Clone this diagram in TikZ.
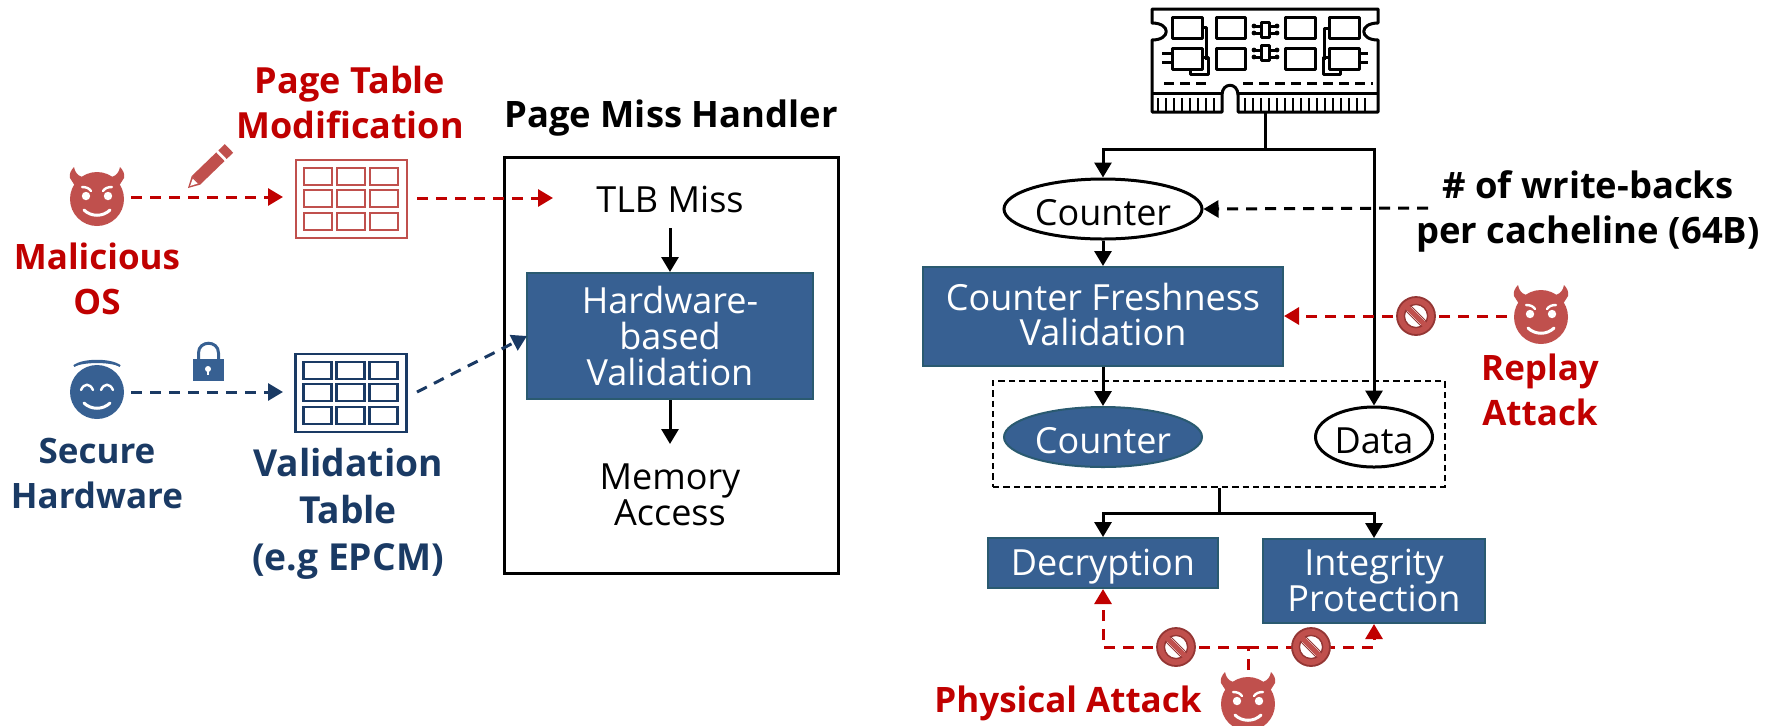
\documentclass[tikz,border=0pt]{standalone}
\usepackage{fontspec}
\setmainfont{Open Sans}
\usetikzlibrary{arrows.meta,shapes.geometric}
\definecolor{redtxt}{HTML}{C00000}
\definecolor{redicon}{HTML}{C0504D}
\definecolor{reddark}{HTML}{943634}
\definecolor{bluebox}{HTML}{376092}
\definecolor{blueedge}{HTML}{2A5A70}
\definecolor{navy}{HTML}{1A3A64}
\newcommand{\lowered}[1]{\raisebox{0pt}[16pt][0pt]{#1}}
\tikzset{
  regtext/.style={font=\fontsize{18}{18}\selectfont,align=center,inner sep=0pt},
  boldtext/.style={font=\bfseries\fontsize{17.5}{22.5}\selectfont,align=center,inner sep=0pt},
  boldwide/.style={font=\bfseries\fontsize{18.2}{22.5}\selectfont,align=center,inner sep=0pt},
  bluerect/.style={rectangle,fill=bluebox,draw=blueedge,line width=1pt,text=white,inner sep=0pt,align=center,font=\fontsize{18}{18}\selectfont},
  whiteoval/.style={ellipse,draw=black,line width=1.5pt,fill=white,inner sep=0pt,font=\fontsize{18}{18}\selectfont,minimum height=30pt},
  blueoval/.style={ellipse,fill=bluebox,draw=blueedge,line width=1pt,text=white,inner sep=0pt,font=\fontsize{18}{18}\selectfont,minimum height=30pt},
  solidarrow/.style={draw=black,line width=1.5pt,-{Triangle[length=7.5pt,width=8.5pt]}},
  solidline/.style={draw=black,line width=1.5pt},
  dashlook/.style={line width=1.5pt,dash pattern=on 5.5pt off 4pt},
  redarrow/.style={dashlook,draw=redtxt,-{Triangle[length=7.5pt,width=8.5pt]}},
  redline/.style={dashlook,draw=redtxt},
  navyarrow/.style={dashlook,draw=navy,-{Triangle[length=7.5pt,width=8.5pt]}},
  blackdash/.style={dashlook,draw=black,-{Triangle[length=7.5pt,width=8.5pt]}},
  iconspot/.style={circle,inner sep=0pt,minimum size=27pt},
  pics/devil/.style={code={
    \fill[redicon] (-27,-21) .. controls (-28,-25) and (-26,-29) .. (-23,-32)
      .. controls (-22,-27) and (-20,-24) .. (-15,-22) -- (15,-22)
      .. controls (20,-24) and (22,-27) .. (23,-32)
      .. controls (26,-29) and (28,-25) .. (27,-21) -- (20,-10) -- (-20,-10) -- cycle;
    \fill[redicon] (0,0) circle[radius=13.5pt];
    \fill[white] (-11,-3) circle[radius=2.1pt] (11,-3) circle[radius=2.1pt];
    \draw[white,line width=1.2pt,line cap=round] (-15,-12) .. controls (-11,-12) and (-8,-11) .. (-6,-8);
    \draw[white,line width=1.2pt,line cap=round] (15,-12) .. controls (11,-12) and (8,-11) .. (6,-8);
    \draw[white,line width=1.5pt,line cap=round] (-13,11) .. controls (-6,18) and (6,18) .. (13,11);
  }},
  pics/angel/.style={code={
    \fill[bluebox] (0,0) circle[radius=13.5pt];
    \draw[bluebox,line width=1pt] (-23,-26) .. controls (-14,-33) and (14,-33) .. (23,-26);
    \draw[bluebox,line width=.8pt] (-23,-26) .. controls (-14,-31) and (14,-31) .. (23,-26);
    \draw[white,line width=1.2pt,line cap=round] (-16,-2) .. controls (-13,-9) and (-7,-9) .. (-4,-2);
    \draw[white,line width=1.2pt,line cap=round] (16,-2) .. controls (13,-9) and (7,-9) .. (4,-2);
    \draw[white,line width=1.5pt,line cap=round] (-13,11) .. controls (-6,18) and (6,18) .. (13,11);
  }},
  pics/nosign/.style={code={
    \fill[redicon] (0,0) circle[radius=9.5pt];
    \draw[reddark,line width=.9pt] (0,0) circle[radius=9.5pt];
    \fill[white] (0,0) circle[radius=5.8pt];
    \draw[reddark,line width=.7pt] (0,0) circle[radius=5.8pt];
    \draw[redicon,line width=2.6pt] (-9,-9) -- (9,9);
    \draw[reddark,line width=.5pt] (-10,-5) -- (5,10) (-5,-10) -- (10,5);
  }},
  pics/gridtable/.style={code={
    \draw[#1,line width=1.4pt] (-55.5,-39) rectangle (55.5,39);
    \foreach \cx in {-47.5,-14.5,18.5}{
      \foreach \cy in {-31,-9,14}{
        \draw[#1,line width=1.4pt] (\cx,\cy) rectangle (\cx+28,\cy+17);
      }
    }
  }},
}
\begin{document}
\begin{tikzpicture}[x=0.5pt,y=-0.5pt]
\useasboundingbox (0,0) rectangle (1776,725);

% ---------- left: nodes
\node[iconspot] (os) at (97,199) {};
\node[iconspot] (hw) at (97,392) {};
\node[minimum width=55.5pt,minimum height=39pt,inner sep=0pt] (ptable) at (351.5,199) {};
\node[minimum width=55.5pt,minimum height=39pt,inner sep=0pt] (vtable) at (351,393) {};
\node[rectangle,draw=black,line width=1.5pt,minimum width=167pt,minimum height=208pt,inner sep=0pt] (pmh) at (671,365) {};
\node[boldwide,text=black] (pmhtitle) at (671,118) {Page Miss Handler};
\node[regtext] (tlb) at (670,199) {TLB Miss};
\node[bluerect,minimum width=143pt,minimum height=63pt] (hwval) at (670,336) {Hardware-\\based\\Validation};
\node[regtext] (memacc) at (670,495) {Memory\\Access};
\node[boldtext,font=\bfseries\fontsize{18}{22.5}\selectfont,text=redtxt] (ptm) at (350,102) {Page Table\\Modification};
\node[boldtext,text=redtxt] (malos) at (97,279) {Malicious\\OS};
\node[boldtext,text=navy] (sechw) at (97,473) {Secure\\Hardware};
\node[boldwide,font=\bfseries\fontsize{18.6}{23.5}\selectfont,text=navy] (valtab) at (348,514) {Validation\\Table\\(e.g EPCM)};

\coordinate (tlbin) at (553,198);
\coordinate (tlbtop) at (670,228);
\coordinate (memtop) at (670,444);
\coordinate (ptout) at (417,198);
\coordinate (vtout) at (417,392);
\coordinate (hwin) at (527,336);
\coordinate (osout) at (131,197);
\coordinate (ptin) at (283,197);
\coordinate (hwout) at (131,392);
\coordinate (vtin) at (283,392);

\pic at (os) {devil};
\pic at (hw) {angel};
\pic at (ptable) {gridtable=redicon};
\pic at (vtable) {gridtable=navy};

\draw[redarrow] (osout) -- (ptin);
\draw[navyarrow] (hwout) -- (vtin);
\draw[redarrow] (ptout) -- (tlbin);
\draw[navyarrow] (vtout) -- (hwin);
\draw[solidarrow] (tlbtop) -- (hwval.north);
\draw[solidarrow] (hwval.south) -- (memtop);

% pencil
\begin{scope}[shift={(188,188)},rotate=44]
  \fill[redicon] (0,0) -- (11,-6) -- (11,6) -- cycle;
  \fill[redicon] (11,-6) rectangle (45,6);
  \fill[redicon] (48,-6) rectangle (57,6);
  \fill[white] (3,0) -- (10,-3.5) -- (10,3.5) -- cycle;
\end{scope}

% lock
\fill[bluebox] (193,359) rectangle (224,381);
\draw[bluebox,line width=1.5pt] (198.5,360) -- (198.5,353) .. controls (198.5,340) and (218.5,340) .. (218.5,353) -- (218.5,360);
\fill[white] (208,369) circle[radius=1.5pt];
\fill[white] (207,369) rectangle (209,375);

% ---------- right: nodes
\node[minimum width=113pt,minimum height=52pt,inner sep=0pt] (module) at (1265,61) {};
\coordinate (topj) at (1265,149);
\node[whiteoval,minimum width=99pt] (cnt1) at (1103,209) {\lowered{Counter}};
\node[bluerect,minimum width=180pt,minimum height=49.5pt,font=\fontsize{18}{17.5}\selectfont] (fresh) at (1103,316.5) {\raisebox{2.6pt}{Counter Freshness}\\\raisebox{2.6pt}{Validation}};
\node[rectangle,draw=black,line width=1.3pt,dash pattern=on 3.2pt off 2pt,minimum width=226pt,minimum height=53pt,inner sep=0pt] (group) at (1219,434) {};
\node[blueoval,minimum width=99pt] (cnt2) at (1103,437) {\lowered{Counter}};
\node[whiteoval,minimum width=58.5pt] (data) at (1374,437) {\lowered{Data}};
\coordinate (botj) at (1219,513);
\node[bluerect,minimum width=115pt,minimum height=25pt] (decr) at (1103,563) {\raisebox{0pt}[16pt][4pt]{Decryption}};
\node[bluerect,minimum width=111pt,minimum height=42pt] (integ) at (1374,581) {\raisebox{.8pt}{Integrity}\\\raisebox{.8pt}{Protection}};
\node[boldwide,text=black] (wb) at (1588,211) {\# of write-backs\\per cacheline (64B)};
\node[boldtext,text=redtxt] (replay) at (1540,390) {Replay\\Attack};
\node[boldtext,text=redtxt] (phys) at (1068,703) {Physical Attack};
\node[iconspot] (dev2) at (1541,317) {};
\node[iconspot] (dev3) at (1248,704) {};
\node[circle,inner sep=0pt,minimum size=19pt] (ns1) at (1416,316) {};
\node[circle,inner sep=0pt,minimum size=19pt] (ns2) at (1176,647) {};
\node[circle,inner sep=0pt,minimum size=19pt] (ns3) at (1311,647) {};
\coordinate (wbend) at (1428,208);
\coordinate (rpstart) at (1507,316);
\coordinate (phj) at (1248,647);
\coordinate (phtop) at (1248,670);

% memory module outline
\begin{scope}[line width=1.5pt,line join=round]
  \draw (1152,9) -- (1378,9) -- (1378,23) .. controls (1359,23) and (1359,40) .. (1378,40)
    -- (1378,112) -- (1238,112) -- (1238,95) .. controls (1238,82) and (1222,82) .. (1222,95)
    -- (1222,112) -- (1152,112) -- (1152,40) .. controls (1171,40) and (1171,23) .. (1152,23) -- cycle;
  \draw (1152,93) -- (1222,93) (1238,93) -- (1378,93);
  \foreach \px in {1158,1166,...,1214}{\draw[line width=1.1pt] (\px,98) -- (\px,112);}
  \foreach \px in {1245,1253,...,1372}{\draw[line width=1.1pt] (\px,98) -- (\px,112);}
  \draw[dash pattern=on 5pt off 3pt] (1164,83) -- (1209,83) (1243,83) -- (1373,83);
  \foreach \cy in {17,48}{
    \draw (1172,\cy) rectangle (1202,\cy+21);
    \draw (1216,\cy) rectangle (1245,\cy+21);
    \draw (1285,\cy) rectangle (1315,\cy+21);
    \draw (1329,\cy) rectangle (1359,\cy+21);
  }
  \draw (1261,22) rectangle (1269,37);
  \draw (1261,45) rectangle (1269,60);
  \foreach \ly in {26,33,50,57}{
    \draw (1253,\ly) -- (1261,\ly) (1269,\ly) -- (1278,\ly);
    \fill (1254,\ly) circle[radius=1.2pt] (1277,\ly) circle[radius=1.2pt];
  }
  \draw (1202,27) -- (1206,27) -- (1206,60);
  \draw (1329,28) -- (1324,28) -- (1324,60);
  \draw (1202,57) -- (1208,57) -- (1208,74) -- (1190,74) -- (1190,69);
  \draw (1329,57) -- (1323,57) -- (1323,74) -- (1340,74) -- (1340,69);
  \draw (1162,53) -- (1172,53) (1162,62) -- (1172,62);
  \draw (1359,53) -- (1368,53) (1359,62) -- (1368,62);
\end{scope}

% right connectors
\draw[solidline] (module.south) -- (topj);
\draw[solidarrow] (topj) -| (cnt1.north);
\draw[solidarrow] (topj) -| (data.north);
\draw[solidarrow] (cnt1.south) -- (fresh.north);
\draw[solidarrow] (fresh.south) -- (cnt2.north);
\draw[solidline] (group.south) -- (botj);
\draw[solidarrow] (botj) -| (decr.north);
\draw[solidarrow] (botj) -| (integ.north);
\draw[blackdash] (wbend) -- (cnt1.east);
\draw[redarrow] (rpstart) -- (fresh.east |- rpstart);
\draw[redarrow] (phj) -| (decr.south);
\draw[redarrow] (phj) -| (integ.south);
\draw[redline] (phtop) -- (phj);

\pic at (dev2) {devil};
\pic at (dev3) {devil};
\pic at (ns1) {nosign};
\pic at (ns2) {nosign};
\pic at (ns3) {nosign};
\end{tikzpicture}
\end{document}
